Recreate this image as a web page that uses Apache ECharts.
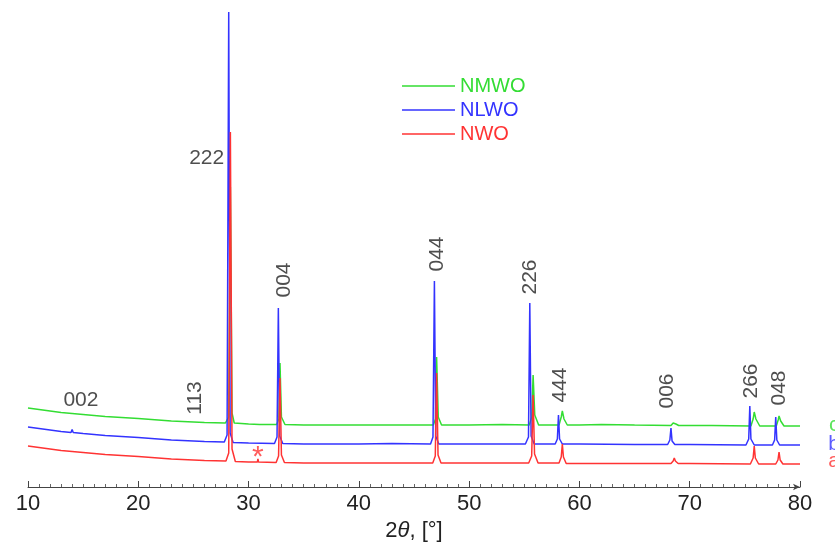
<!DOCTYPE html>
<html>
<head>
<meta charset="utf-8">
<script src="https://cdn.jsdelivr.net/npm/echarts@6/dist/echarts.min.js"></script>
<style>
  html, body { margin: 0; padding: 0; background: #fff; }
  #chart { width: 835px; height: 549px; }
</style>
</head>
<body>
<div id="chart"></div>
<script>
// XRD patterns, 2theta in degrees vs intensity (a.u., curves already offset)
const nmwo = [
  [10, 79], [11, 77.5], [12, 76], [13, 74.5], [14, 73.5], [15, 72.5], [17, 70.5], [20, 68.5],
  [23, 66], [26, 64.5], [27.9, 64], [28.2, 70], [28.35, 300], [28.5, 74], [28.7, 64],
  [30, 63], [31, 62.5], [32.55, 62.5], [32.75, 68], [32.85, 124], [32.98, 70], [33.3, 62.5],
  [35, 62], [38, 62], [40.4, 62], [40.5, 63.5], [40.6, 62], [45, 62], [46.75, 62], [46.95, 68],
  [47.05, 130], [47.2, 70], [47.5, 62], [50, 62], [53, 62.5], [55.45, 62], [55.68, 70],
  [55.8, 112], [55.95, 72], [56.3, 62], [58.15, 62], [58.35, 70], [58.45, 76], [58.6, 68],
  [58.9, 62], [60, 62], [62, 62.5], [65, 62], [68.3, 61.5], [68.5, 64], [68.6, 66],
  [68.75, 63], [69, 61.5], [72, 61.5], [75.55, 61], [75.75, 68], [75.85, 75], [76, 68],
  [76.35, 61], [77.85, 61], [78.02, 67], [78.1, 71], [78.25, 66], [78.55, 61], [80, 61]
];
const nlwo = [
  [10, 60], [11, 58.5], [12, 57], [13, 55.5], [13.9, 54.5], [14, 57.5], [14.1, 54.5],
  [15, 53.5], [17, 51.5], [20, 49.5], [23, 47], [26, 45.5], [27.8, 45], [28.05, 52],
  [28.2, 475], [28.33, 54], [28.6, 44.5], [30, 44], [32.35, 43.5], [32.58, 50], [32.7, 179],
  [32.82, 51], [33.1, 43.5], [35, 43], [40, 43], [43, 43.5], [46.5, 43], [46.72, 50],
  [46.85, 206], [46.97, 51], [47.25, 43], [50, 43], [55.1, 43], [55.38, 50], [55.5, 184],
  [55.62, 51], [55.9, 43], [57.8, 43], [58.0, 48], [58.1, 72], [58.2, 48], [58.45, 43],
  [60, 43], [65, 42.5], [68.0, 42.5], [68.2, 47], [68.3, 59], [68.4, 46], [68.65, 42.5],
  [70, 42.5], [75.1, 42], [75.35, 48], [75.45, 81], [75.55, 48], [75.85, 42], [77.5, 42],
  [77.7, 47], [77.8, 70], [77.9, 47], [78.15, 42], [80, 42]
];
const nwo = [
  [10, 41], [11, 39.5], [12, 38], [13, 36.5], [15, 34.5], [17, 32.5], [20, 30.5], [23, 28],
  [26, 26.5], [27.95, 26], [28.2, 34], [28.35, 355], [28.5, 38], [28.8, 25.5], [30, 25],
  [30.8, 25], [30.85, 28], [30.9, 25], [32.5, 24.5], [32.72, 31], [32.85, 109], [32.98, 32],
  [33.25, 24.5], [35, 24], [40, 24], [45, 24], [46.7, 24], [46.93, 31], [47.05, 114],
  [47.18, 32], [47.45, 24], [50, 24], [55.4, 24], [55.67, 31], [55.8, 92], [55.93, 33],
  [56.25, 24], [58.15, 24], [58.35, 30], [58.45, 43], [58.55, 30], [58.8, 23.5], [60, 23.5],
  [65, 23.5], [68.3, 23.5], [68.5, 26], [68.6, 29], [68.7, 26], [68.95, 23.5], [70, 23.5],
  [75.5, 23], [75.75, 29], [75.85, 41], [75.95, 29], [76.25, 23], [77.8, 23], [78.0, 27],
  [78.1, 35], [78.2, 27], [78.45, 23], [80, 23]
];

// peak indices and other annotations: text, 2theta, height, rotation
const annoText = ['002', '222', '113', '004', '044', '226', '444', '006', '266', '048'];
const annoX = [14.8, 26.2, 25.2, 33.2, 47.1, 55.5, 58.3, 68.0, 75.6, 78.1];
const annoY = [87, 329, 89, 207, 233, 210, 102, 96, 106, 99];
const annoRot = [0, 0, 90, 90, 90, 90, 90, 90, 90, 90];

const curveTags = ['c', 'b', 'a'];
const curveTagY = [62, 43, 26];

const names = ['NMWO', 'NLWO', 'NWO'];
const colors = ['#33dd33', '#3333ff', '#ff3333'];

const chart = echarts.init(document.getElementById('chart'));

const font = '"Liberation Sans", Arial, sans-serif';

chart.setOption({
  animation: false,
  textStyle: { fontFamily: font },
  grid: { left: 28, right: 35, top: 12, bottom: 62 },
  legend: {
    orient: 'vertical',
    left: 397,
    top: 71,
    icon: 'rect',
    itemWidth: 53,
    itemHeight: 1.5,
    itemGap: 4,
    textStyle: { fontSize: 20, lineHeight: 20 },
    data: names.map((n, i) => ({ name: n, textStyle: { color: colors[i] } }))
  },
  xAxis: {
    type: 'value',
    min: 10,
    max: 80,
    interval: 10,
    name: '2{i|θ}, [°]',
    nameLocation: 'middle',
    nameGap: 31,
    nameTextStyle: {
      fontSize: 22,
      color: '#222',
      rich: { i: { fontStyle: 'italic', fontSize: 22, color: '#222' } }
    },
    axisLine: {
      lineStyle: { color: '#444', width: 1 },
      symbol: ['none', 'arrow'],
      symbolSize: [5, 7]
    },
    axisTick: { inside: true, length: 6, lineStyle: { color: '#444' } },
    minorTick: { show: true, splitNumber: 10, length: 3, lineStyle: { color: '#666' } },
    axisLabel: { fontSize: 22, color: '#222', margin: 6 },
    splitLine: { show: false }
  },
  yAxis: {
    type: 'value',
    min: 0,
    max: 475,
    show: false
  },
  series: [
    ...[nmwo, nlwo, nwo].map((d, i) => ({
      name: names[i],
      type: 'line',
      data: d,
      showSymbol: false,
      symbol: 'none',
      sampling: 'none',
      lineStyle: { color: colors[i], width: 1.5 },
      itemStyle: { color: colors[i] },
      silent: true
    })),
    {
      type: 'scatter',
      silent: true,
      clip: false,
      symbolSize: 0,
      data: annoText.map((t, i) => ({
        value: [annoX[i], annoY[i], t],
        label: { rotate: annoRot[i] }
      })).concat([{
        value: [30.85, 29, '*'],
        label: { color: '#ff3333', fontSize: 30 }
      }]).concat(curveTags.map((t, i) => ({
        value: [83.1, curveTagY[i], t],
        label: { color: colors[i] }
      }))),
      label: {
        show: true,
        position: 'inside',
        formatter: p => p.value[2],
        fontSize: 21,
        color: '#222'
      }
    }
  ]
});
</script>
</body>
</html>
